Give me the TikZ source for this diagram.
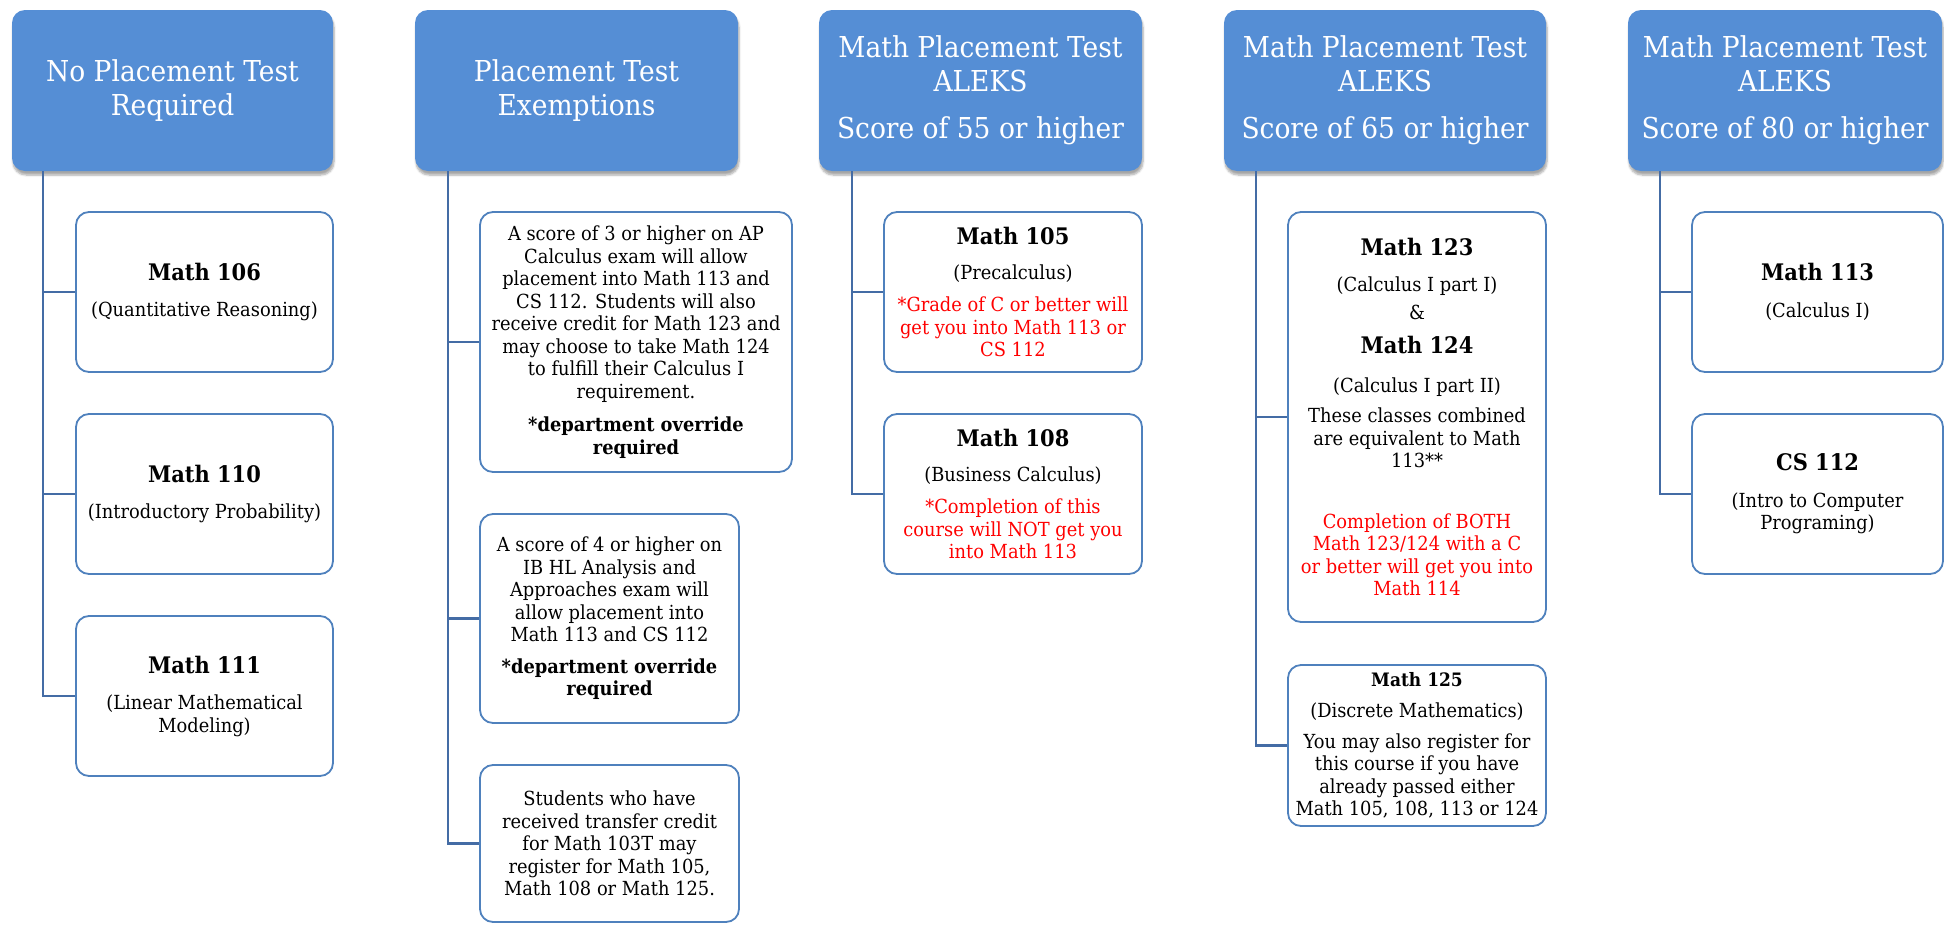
\documentclass[tikz,border=0pt]{standalone}
\usepackage{fontspec}
\setmainfont{DejaVu Serif}[FakeStretch=0.92]
\usetikzlibrary{shadows.blur}
\definecolor{hdr}{RGB}{85,142,213}
\definecolor{bdr}{RGB}{79,129,189}
\definecolor{cnn}{RGB}{68,108,165}
\tikzset{
  hdrbox/.style={fill=hdr, draw=none, rounded corners=13pt, inner sep=0pt,
    text=white, align=center, font=\fontsize{28.8}{34}\selectfont,
    blur shadow={shadow xshift=1pt, shadow yshift=-4pt, shadow blur steps=6, shadow opacity=35}},
  crsbox/.style={draw=bdr, line width=1.8pt, fill=white, rounded corners=13pt,
    inner sep=0pt, align=center, font=\fontsize{19.4}{22.5}\selectfont},
  conn/.style={draw=cnn, line width=2.4pt},
}
\newcommand\ttl[1]{{\fontsize{22.8}{24}\selectfont\bfseries #1}}
\newcommand\rl[1]{\textcolor{red}{#1}}
\begin{document}
\begin{tikzpicture}[x=1pt,y=-1pt]
\useasboundingbox (0,0) rectangle (1944,924);
% headers
\node[hdrbox, minimum width=321pt, minimum height=161pt] (h1) at (172.5,90.5) {No Placement Test\\Required};
\node[hdrbox, minimum width=323pt, minimum height=161pt] (h2) at (576.5,90.5) {Placement Test\\Exemptions};
\node[hdrbox, minimum width=323pt, minimum height=161pt] (h3) at (980.5,90.5) {Math Placement Test\\ALEKS\\[13pt]Score of 55 or higher};
\node[hdrbox, minimum width=322pt, minimum height=161pt] (h4) at (1385,90.5) {Math Placement Test\\ALEKS\\[13pt]Score of 65 or higher};
\node[hdrbox, minimum width=314pt, minimum height=161pt] (h5) at (1785,90.5) {Math Placement Test\\ALEKS\\[13pt]Score of 80 or higher};
% column 1
\node[crsbox, minimum width=257pt, minimum height=160pt] (m106) at (204.5,292) {\ttl{Math 106}\\[14pt](Quantitative Reasoning)};
\node[crsbox, minimum width=257pt, minimum height=160pt] (m110) at (204.5,494) {\ttl{Math 110}\\[14pt](Introductory Probability)};
\node[crsbox, minimum width=257pt, minimum height=160pt] (m111) at (204.5,696) {\ttl{Math 111}\\[14pt](Linear Mathematical\\Modeling)};
% column 2
\node[crsbox, minimum width=312pt, minimum height=260pt] (ap) at (636,342) {A score of 3 or higher on AP\\Calculus exam will allow\\placement into Math 113 and\\CS 112. Students will also\\receive credit for Math 123 and\\may choose to take Math 124\\to fulfill their Calculus I\\requirement.\\[11pt]\textbf{*department override}\\\textbf{required}};
\node[crsbox, minimum width=259pt, minimum height=209pt] (ib) at (609.5,618.5) {A score of 4 or higher on\\IB HL Analysis and\\Approaches exam will\\allow placement into\\Math 113 and CS 112\\[9pt]\textbf{*department override}\\\textbf{required}};
\node[crsbox, minimum width=259pt, minimum height=157pt] (tr) at (609.5,843.5) {Students who have\\received transfer credit\\for Math 103T may\\register for Math 105,\\Math 108 or Math 125.};
% column 3
\node[crsbox, minimum width=258pt, minimum height=160pt] (m105) at (1013,292) {\ttl{Math 105}\\[12pt](Precalculus)\\[10pt]\rl{*Grade of C or better will}\\\rl{get you into Math 113 or}\\\rl{CS 112}};
\node[crsbox, minimum width=258pt, minimum height=160pt] (m108) at (1013,494) {\ttl{Math 108}\\[12pt](Business Calculus)\\[10pt]\rl{*Completion of this}\\\rl{course will NOT get you}\\\rl{into Math 113}};
% column 4
\node[crsbox, minimum width=258pt, minimum height=410pt] (m123) at (1417,417) {\ttl{Math 123}\\[14pt](Calculus I part I)\\[5pt]\&\\[12pt]\ttl{Math 124}\\[16pt](Calculus I part II)\\[8pt]These classes combined\\are equivalent to Math\\113**\\[38pt]\rl{Completion of BOTH}\\\rl{Math 123/124 with a C}\\\rl{or better will get you into}\\\rl{Math 114}};
\node[crsbox, minimum width=258pt, minimum height=161pt] (m125) at (1417,745.5) {{\fontsize{18.5}{20}\selectfont\bfseries Math 125}\\[9pt](Discrete Mathematics)\\[8pt]You may also register for\\this course if you have\\already passed either\\Math 105, 108, 113 or 124};
% column 5
\node[crsbox, minimum width=251pt, minimum height=160pt] (m113) at (1817.5,292) {\ttl{Math 113}\\[14pt](Calculus I)};
\node[crsbox, minimum width=251pt, minimum height=160pt] (cs112) at (1817.5,494) {\ttl{CS 112}\\[14pt](Intro to Computer\\Programing)};
% connectors
\draw[conn] ([xshift=31pt]h1.south west) |- (m106.west);
\draw[conn] ([xshift=31pt]h1.south west) |- (m110.west);
\draw[conn] ([xshift=31pt]h1.south west) |- (m111.west);
\draw[conn] ([xshift=33pt]h2.south west) |- (ap.west);
\draw[conn] ([xshift=33pt]h2.south west) |- (ib.west);
\draw[conn] ([xshift=33pt]h2.south west) |- (tr.west);
\draw[conn] ([xshift=33pt]h3.south west) |- (m105.west);
\draw[conn] ([xshift=33pt]h3.south west) |- (m108.west);
\draw[conn] ([xshift=32pt]h4.south west) |- (m123.west);
\draw[conn] ([xshift=32pt]h4.south west) |- (m125.west);
\draw[conn] ([xshift=32pt]h5.south west) |- (m113.west);
\draw[conn] ([xshift=32pt]h5.south west) |- (cs112.west);
\end{tikzpicture}
\end{document}
